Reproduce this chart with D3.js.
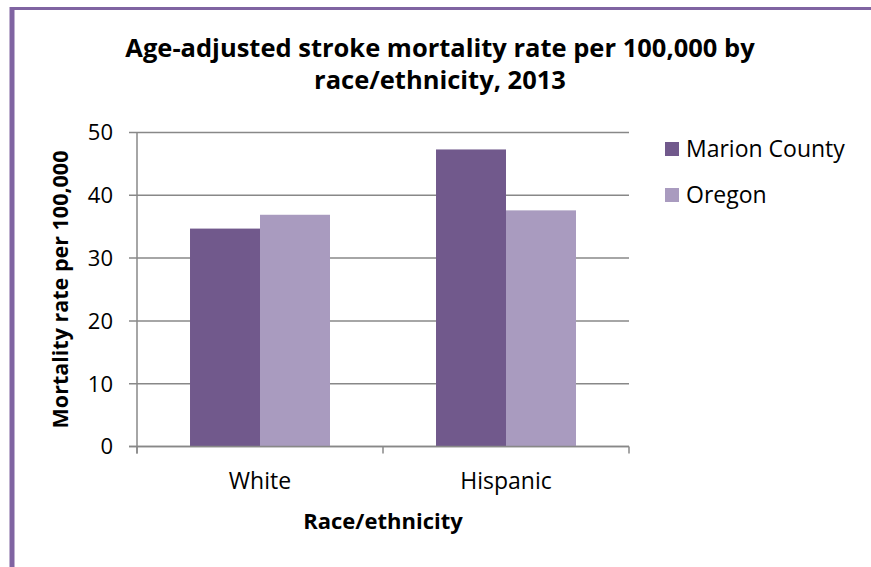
<!DOCTYPE html>
<html>
<head>
<meta charset="utf-8">
<script src="https://cdn.jsdelivr.net/npm/d3@7"></script>
<style>
  body { margin: 0; background: #fff; }
  svg { display: block; font-family: "Open Sans", sans-serif; }
</style>
</head>
<body>
<div id="chart"></div>
<script>
const categories = ["White", "Hispanic"];
const seriesNames = ["Marion County", "Oregon"];
const marionValues = [34.7, 47.3];
const oregonValues = [36.9, 37.6];
const yTicks = [0, 10, 20, 30, 40, 50];

const width = 871;
const height = 567;
const margin = { top: 132.5, left: 137, right: 242, bottom: 120.5 };
const plotW = width - margin.left - margin.right;
const plotH = height - margin.top - margin.bottom;

const color = d3.scaleOrdinal().domain(seriesNames).range(["#71598c", "#a99bbf"]);

const svg = d3.select("#chart")
    .append("svg")
    .attr("width", width)
    .attr("height", height);

// frame
svg.append("line")
    .attr("x1", 12).attr("x2", 12).attr("y1", 7).attr("y2", height)
    .attr("stroke", "#8064a2").attr("stroke-width", 5);
svg.append("line")
    .attr("x1", 10).attr("x2", width).attr("y1", 8.5).attr("y2", 8.5)
    .attr("stroke", "#8064a2").attr("stroke-width", 3);

// title
const title = svg.append("text")
    .attr("text-anchor", "middle")
    .style("font-size", "25.5px")
    .style("font-weight", "bold")
    .attr("fill", "#000");
title.append("tspan").attr("x", 440).attr("y", 57).text("Age-adjusted stroke mortality rate per 100,000 by");
title.append("tspan").attr("x", 440).attr("y", 89).text("race/ethnicity, 2013");

const g = svg.append("g")
    .attr("transform", `translate(${margin.left},${margin.top})`);

const y = d3.scaleLinear().domain([0, 50]).range([plotH, 0]);

const x0 = d3.scaleBand()
    .domain(categories)
    .range([0, plotW])
    .paddingInner(0.431)
    .paddingOuter(0.2155);

const x1 = d3.scaleBand()
    .domain(seriesNames)
    .range([0, x0.bandwidth()]);

// gridlines
g.selectAll(".grid")
    .data(yTicks)
    .enter()
    .append("line")
    .attr("x1", -8)
    .attr("x2", plotW)
    .attr("y1", (d) => y(d))
    .attr("y2", (d) => y(d))
    .attr("stroke", "#888")
    .attr("stroke-width", 1.5);

// tick labels
g.selectAll(".ytick")
    .data(yTicks)
    .enter()
    .append("text")
    .attr("x", -24)
    .attr("y", (d) => y(d))
    .attr("dy", "0.36em")
    .attr("text-anchor", "end")
    .style("font-size", "22px")
    .text((d) => d);

// bars
const rows = categories.map((c, i) => ({
    category: c,
    values: [
        { series: seriesNames[0], value: marionValues[i] },
        { series: seriesNames[1], value: oregonValues[i] }
    ]
}));

g.selectAll(".cat")
    .data(rows)
    .enter()
    .append("g")
    .attr("transform", (d) => `translate(${x0(d.category)},0)`)
    .selectAll("rect")
    .data((d) => d.values)
    .enter()
    .append("rect")
    .attr("x", (d) => x1(d.series))
    .attr("width", x1.bandwidth())
    .attr("y", (d) => y(d.value))
    .attr("height", (d) => y(0) - y(d.value))
    .attr("fill", (d) => color(d.series));

// axes
g.append("line")
    .attr("x1", 0).attr("x2", 0).attr("y1", 0).attr("y2", plotH + 7)
    .attr("stroke", "#888").attr("stroke-width", 1.5);
g.append("line")
    .attr("x1", -8).attr("x2", plotW).attr("y1", plotH).attr("y2", plotH)
    .attr("stroke", "#888").attr("stroke-width", 1.5);

const boundaries = [0, plotW / 2, plotW];
g.selectAll(".xtick")
    .data(boundaries)
    .enter()
    .append("line")
    .attr("x1", (d) => d).attr("x2", (d) => d)
    .attr("y1", plotH).attr("y2", plotH + 7)
    .attr("stroke", "#888").attr("stroke-width", 1.5);

g.selectAll(".xlabel")
    .data(categories)
    .enter()
    .append("text")
    .attr("x", (d) => x0(d) + x0.bandwidth() / 2)
    .attr("y", plotH + 42)
    .attr("text-anchor", "middle")
    .style("font-size", "23px")
    .text((d) => d);

// axis titles
g.append("text")
    .attr("x", plotW / 2)
    .attr("y", plotH + 82)
    .attr("text-anchor", "middle")
    .style("font-size", "22px")
    .style("font-weight", "bold")
    .text("Race/ethnicity");

g.append("text")
    .attr("transform", `translate(${60 - margin.left},${plotH / 2}) rotate(-90)`)
    .attr("text-anchor", "middle")
    .attr("dy", "0.36em")
    .style("font-size", "21.5px")
    .style("font-weight", "bold")
    .text("Mortality rate per 100,000");

// legend
const legend = svg.append("g")
    .attr("transform", "translate(665,142)");

const item = legend.selectAll(".item")
    .data(seriesNames)
    .enter()
    .append("g")
    .attr("transform", (d, i) => `translate(0,${i * 46})`);

item.append("rect")
    .attr("width", 14)
    .attr("height", 14)
    .attr("y", 0)
    .attr("fill", (d) => color(d));

item.append("text")
    .attr("x", 21)
    .attr("y", 7)
    .attr("dy", "0.36em")
    .style("font-size", "23px")
    .text((d) => d);
</script>
</body>
</html>
